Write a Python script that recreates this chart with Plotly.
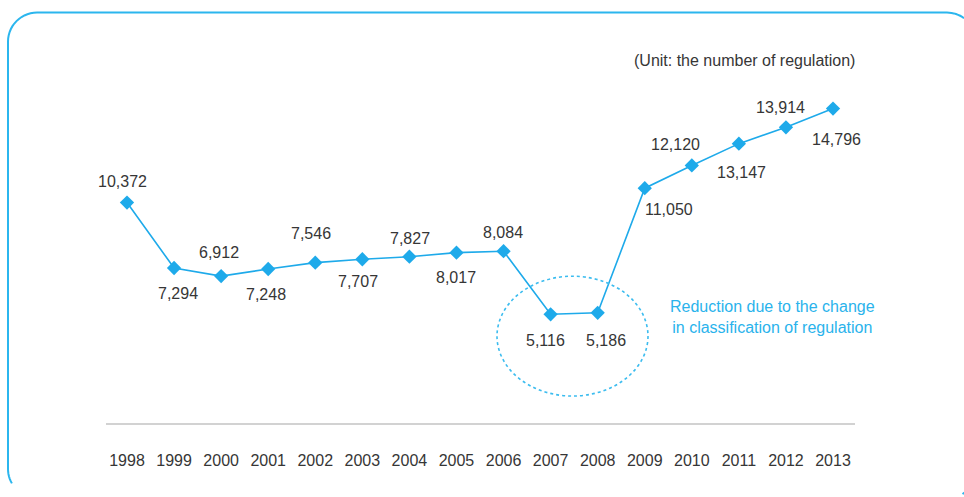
import math
import plotly.graph_objects as go

years = ["1998", "1999", "2000", "2001", "2002", "2003", "2004", "2005",
         "2006", "2007", "2008", "2009", "2010", "2011", "2012", "2013"]
regulations = [10372, 7294, 6912, 7248, 7546, 7707, 7827, 8017,
               8084, 5116, 5186, 11050, 12120, 13147, 13914, 14796]

# label offsets in pixels (style only)
label_dx = [-4, 4, -2, -2, -4, -4, 1, 0, -1, -5, 8, 24, -16, 3, -5, 3]
label_dy = [21, -25, 24, -26, 29, -22, 18, -25, 19, -26, -28, -21, 21, -29, 20, -31]

BLUE = "#1eaaea"
TEXT = "#363636"
FONT = "Liberation Sans"

# layout geometry (pixels)
W, H = 964, 497
L, R, T, B = 106, 855, 82.5, 423
idx = list(range(len(years)))

fig = go.Figure()
fig.add_trace(go.Scatter(
    x=idx, y=regulations, mode="lines+markers",
    line=dict(color=BLUE, width=1.6),
    marker=dict(symbol="diamond", size=11, color=BLUE),
    hoverinfo="skip", showlegend=False,
))

for i, (v, dx, dy) in enumerate(zip(regulations, label_dx, label_dy)):
    fig.add_annotation(x=i, y=v, text=f"{v:,}", showarrow=False,
                       xshift=dx, yshift=dy,
                       font=dict(family=FONT, size=16, color=TEXT))

def px(x):
    return (x - L) / (R - L)

def py(y):
    return (B - y) / (B - T)

def arc(cx, cy, r, a0, a1, n=12):
    pts = []
    for k in range(n + 1):
        a = math.radians(a0 + (a1 - a0) * k / n)
        pts.append((cx + r * math.cos(a), cy + r * math.sin(a)))
    return pts

# rounded border, clipped to the canvas on the right and bottom
r = 29
pts = []
pts += arc(8 + r, 498 - r, r, 150, 180, 6)        # bottom-left corner (partial)
pts += arc(8 + r, 12 + r, r, 180, 270, 14)        # top-left corner
pts += arc(947, 12 + r, r, 270, 306, 8)           # top-right corner up to edge
path = "M " + " L ".join(f"{px(x):.5f},{py(y):.5f}" for x, y in pts)
fig.add_shape(type="path", path=path, xref="paper", yref="paper",
              line=dict(color="#2bb6ee", width=2))
pts2 = arc(948, 498 - r, r, 60, 30, 4)             # tiny bottom-right corner piece
path2 = "M " + " L ".join(f"{px(x):.5f},{py(y):.5f}" for x, y in pts2)
fig.add_shape(type="path", path=path2, xref="paper", yref="paper",
              line=dict(color="#2bb6ee", width=2))

# dotted ellipse around 2007-2008
fig.add_shape(type="circle", xref="paper", yref="paper",
              x0=px(497), x1=px(648), y0=py(396), y1=py(276),
              line=dict(color="#3bbcef", width=1.6, dash="dot"))

fig.add_annotation(xref="paper", yref="paper", x=px(772), y=py(317),
                   xanchor="center", yanchor="middle",
                   text="Reduction due to the change<br>in classification of regulation",
                   showarrow=False, align="center",
                   font=dict(family=FONT, size=16, color="#2ab3ec"))

fig.add_annotation(xref="paper", yref="paper", x=px(744), y=py(60),
                   xanchor="center", yanchor="middle",
                   text="(Unit: the number of regulation)", showarrow=False,
                   font=dict(family=FONT, size=16, color=TEXT))

fig.update_xaxes(range=[-0.446, 15.467], tickmode="array", tickvals=idx,
                 ticktext=years, showgrid=False, zeroline=False,
                 showline=True, linecolor="#d2d2d2", linewidth=2,
                 ticks="", ticklabelstandoff=22,
                 tickfont=dict(family=FONT, size=16, color=TEXT))
fig.update_yaxes(range=[0, 16000], visible=False, showgrid=False)

fig.update_layout(
    width=W, height=H,
    margin=dict(l=L, r=W - R, t=T, b=H - B),
    paper_bgcolor="white", plot_bgcolor="white",
)

fig.write_html("out.html", config={"displayModeBar": False},
               post_script="document.body.style.margin='0';document.body.style.overflow='hidden';")
